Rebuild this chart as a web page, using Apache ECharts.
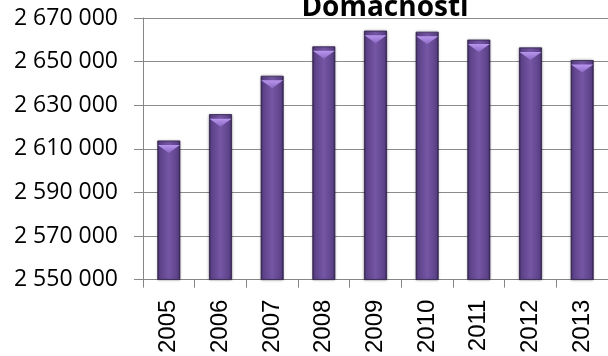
<!DOCTYPE html>
<html>
<head>
<meta charset="utf-8">
<script src="https://cdn.jsdelivr.net/npm/echarts@6/dist/echarts.min.js"></script>
<style>
  html, body { margin: 0; padding: 0; background: #fff; }
  #chart { width: 608px; height: 356px; }
</style>
</head>
<body>
<div id="chart"></div>
<script>
var years = ['2005', '2006', '2007', '2008', '2009', '2010', '2011', '2012', '2013']
var households = [2613800, 2625900, 2643500, 2657000, 2664200, 2663700, 2660100, 2656500, 2650700]
var yMin = 2550000
var yMax = 2670000
var yStep = 20000

function spaced(v) {
  return String(v).replace(/\B(?=(\d{3})+(?!\d))/g, ' ')
}

var chart = echarts.init(document.getElementById('chart'), null, { renderer: 'canvas' })

var option = {
  animation: false,
  title: {
    text: 'Domácnosti',
    left: 380,
    top: -11,
    textAlign: 'center',
    textStyle: {
      fontFamily: 'Open Sans',
      fontWeight: 'bold',
      fontSize: 28,
      color: '#000'
    }
  },
  grid: {
    left: 143,
    top: 18,
    width: 476,
    height: 267
  },
  xAxis: {
    type: 'category',
    data: years,
    axisLine: { lineStyle: { color: '#868686', width: 1 } },
    axisTick: { show: true, length: 8, lineStyle: { color: '#868686' } },
    axisLabel: {
      rotate: 90,
      margin: 20,
      fontFamily: 'Liberation Sans',
      fontSize: 24,
      color: '#000'
    }
  },
  yAxis: {
    type: 'value',
    min: yMin,
    max: yMax,
    interval: yStep,
    axisLine: { show: true, lineStyle: { color: '#868686', width: 1 } },
    axisTick: { show: true, length: 9, lineStyle: { color: '#868686' } },
    splitLine: { lineStyle: { color: '#8c8c8c', width: 1 } },
    axisLabel: {
      margin: 25,
      fontFamily: 'Open Sans',
      fontSize: 23,
      color: '#000',
      formatter: spaced
    }
  },
  series: [
    {
      name: 'Domácnosti',
      type: 'bar',
      data: households,
      barWidth: 23,
      barGap: '-100%',
      itemStyle: {
        borderColor: '#2f1f48',
        borderWidth: 0.8,
        shadowColor: 'rgba(0,0,0,0.25)',
        shadowBlur: 3,
        color: new echarts.graphic.LinearGradient(0, 0, 1, 0, [
          { offset: 0, color: '#3a2659' },
          { offset: 0.1, color: '#5c4288' },
          { offset: 0.5, color: '#7556a5' },
          { offset: 0.9, color: '#5c4288' },
          { offset: 1, color: '#352253' }
        ])
      }
    },
    {
      name: 'bevel',
      type: 'pictorialBar',
      data: households,
      barWidth: 23,
      barGap: '-100%',
      symbol: 'path://M0,0 L20,0 L10,7 Z',
      symbolSize: [22, 8],
      symbolPosition: 'end',
      symbolOffset: [0, 4.5],
      z: 3,
      itemStyle: {
        color: new echarts.graphic.LinearGradient(0, 0, 0, 1, [
          { offset: 0, color: '#b996ee' },
          { offset: 1, color: '#8b68c2' }
        ])
      }
    }
  ]
}

chart.setOption(option)
</script>
</body>
</html>
